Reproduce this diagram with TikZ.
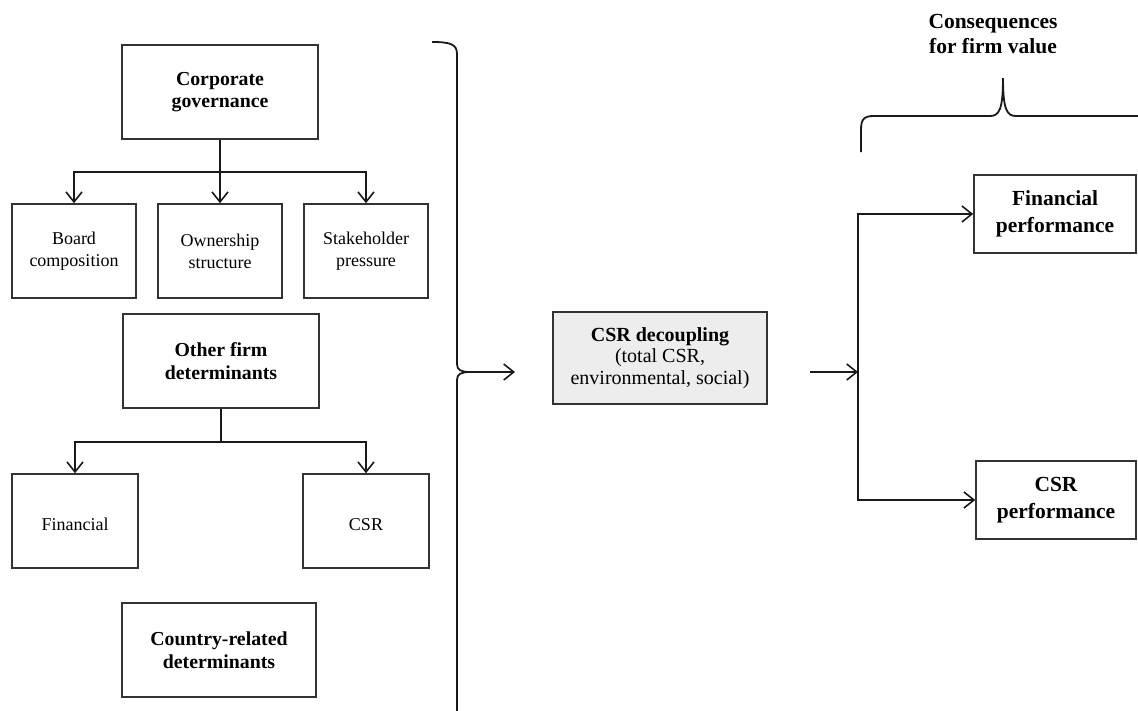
\documentclass[tikz,border=0pt]{standalone}
\usepackage{fontspec}
\setmainfont{Liberation Serif}
\usetikzlibrary{arrows.meta}
\begin{document}
\begin{tikzpicture}[x=1pt,y=-1pt,
  lower/.style={execute at begin node={\rule{0pt}{#1}}},
  box/.style={draw=black!80, line width=1.6pt, align=center, inner sep=2pt,
    font=\fontsize{18}{22}\selectfont, lower=20pt},
  bbox/.style={box, font=\fontsize{19.8}{22.5}\selectfont\bfseries, lower=21pt},
  rbox/.style={box, font=\fontsize{21.5}{26.5}\selectfont\bfseries, lower=21pt},
  conn/.style={line width=1.8pt, draw=black!90},
  arr/.style={conn, -{Straight Barb[length=10pt,width=16pt,line width=1.6pt]}},
  brace/.style={line width=1.8pt, draw=black!90}]
\useasboundingbox (0,0) rectangle (1138,710);
\clip (0,0) rectangle (1138,710);
% left column
\node[bbox, minimum width=196pt, minimum height=94pt] (cg) at (220,92) {Corporate\\governance};
\node[box, minimum width=124pt, minimum height=94pt] (board) at (74,251) {Board\\composition};
\node[box, minimum width=124pt, minimum height=94pt] (own) at (220,251) {Ownership\\structure};
\node[box, minimum width=124pt, minimum height=94pt] (stake) at (366,251) {Stakeholder\\pressure};
\node[bbox, minimum width=196pt, minimum height=94pt] (ofd) at (221,361) {Other firm\\determinants};
\node[box, lower=16pt, minimum width=126pt, minimum height=94pt] (fin) at (75,521) {Financial};
\node[box, lower=16pt, minimum width=126pt, minimum height=94pt] (csr) at (366,521) {CSR};
\node[bbox, minimum width=194pt, minimum height=94pt] (cty) at (219,650) {Country-related\\determinants};
% center
\node[box, fill=black!7, font=\fontsize{20}{21.7}\selectfont, lower=27.5pt, minimum width=214pt, minimum height=92pt] (dec) at (660,358)
  {\textbf{CSR decoupling}\\(total CSR,\\environmental, social)};
% right
\node[rbox, minimum width=162pt, minimum height=78pt] (fp) at (1055,214) {Financial\\performance};
\node[rbox, minimum width=160pt, minimum height=78pt] (cp) at (1056,500) {CSR\\performance};
\node[font=\fontsize{21.5}{25}\selectfont\bfseries, align=center] (cons) at (993,34) {Consequences\\for firm value};
% tree connectors
\coordinate (b1) at (220,172);
\draw[arr] (cg.south) -- (b1) -| (board.north);
\draw[arr] (b1) -| (stake.north);
\draw[arr] (b1) -- (own.north);
\coordinate (b2) at (221,442);
\draw[conn] (ofd.south) -- (b2);
\draw[arr] (b2) -| (fin.north);
\draw[arr] (b2) -| (csr.north);
% left brace
\coordinate (lbtip) at (470,372);
\draw[brace] (432,42) .. controls (450,42) and (457,44) .. (457,54) -- (457,364)
  .. controls (457,370) and (461,372) .. (lbtip)
  .. controls (461,372) and (457,374) .. (457,380) -- (457,712);
\coordinate (lbend) at (515,372);
\draw[arr] (lbtip) -- (lbend);
% right connectors
\coordinate (rs) at (810,372);
\coordinate (split) at (858,372);
\draw[arr] (rs) -- (split);
\draw[arr] (split) |- (fp.west);
\draw[arr] (split) |- (cp.west);
% top brace
\coordinate (tbtip) at (1003,78);
\draw[brace] (861,152) -- (861,130) .. controls (861,119) and (864,116) .. (874,116)
  -- (990,116) .. controls (999,116) and (1003,110) .. (tbtip)
  .. controls (1003,110) and (1007,116) .. (1016,116) -- (1150,116);
\end{tikzpicture}
\end{document}
